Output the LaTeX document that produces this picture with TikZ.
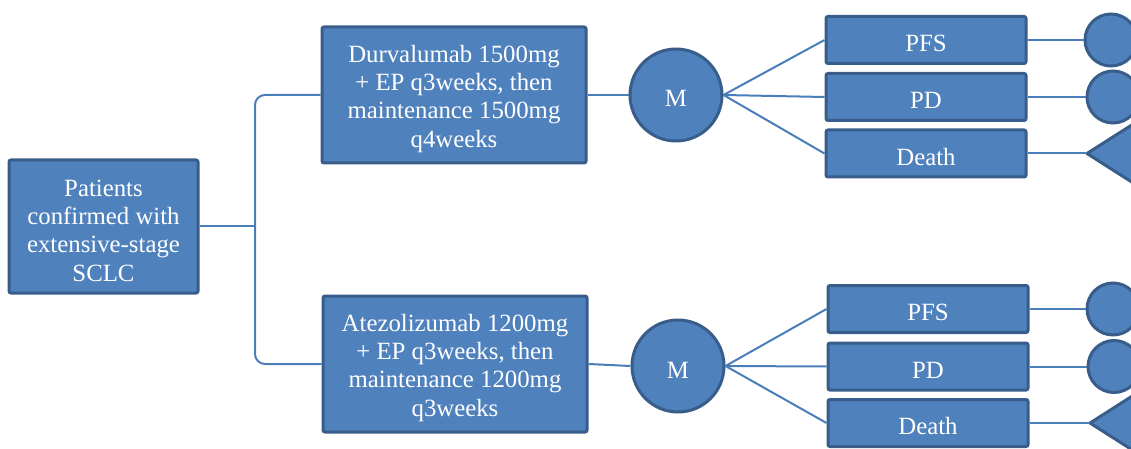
\documentclass[tikz,border=0pt]{standalone}
\usepackage{fontspec}
\setmainfont{Liberation Serif}
\usepackage{xcolor}
\usetikzlibrary{positioning,calc}

\definecolor{boxfill}{HTML}{4F81BD}
\definecolor{boxline}{HTML}{385D8A}
\definecolor{linkcol}{HTML}{4A7EBB}

\begin{document}
\begin{tikzpicture}[x=0.5pt, y=-0.5pt,
  blk/.style={draw=boxline, fill=boxfill, line width=1.5pt, rounded corners=1pt,
    text=white, align=center, inner sep=0pt, font=\fontsize{12.4}{14.2}\selectfont,
    execute at begin node={\rule{0pt}{12pt}}},
  tall/.style={execute at begin node={\rule{0pt}{55pt}}},
  arm/.style={blk, tall, minimum width=132pt, minimum height=68pt},
  outc/.style={blk, minimum width=100pt, minimum height=23.5pt},
  mnode/.style={blk, circle, minimum size=46pt},
  endc/.style={draw=boxline, fill=boxfill, line width=1.5pt, circle, minimum size=26pt, inner sep=0pt},
  endtri/.style={draw=boxline, fill=boxfill, line width=1.5pt, line join=round},
  link/.style={draw=linkcol, line width=1pt}]
  \useasboundingbox (0,0) rectangle (1131,449);
  \clip (0,0) rectangle (1131,449);

  % start
  \node[blk, tall, minimum width=94.5pt, minimum height=66.5pt] (pat) at (103.5,226.5)
    {Patients\\confirmed with\\extensive-stage\\SCLC};
  \coordinate (fork) at (255,226.5);

  % top arm: durvalumab
  \node[arm] (dur) at (454,95) {Durvalumab 1500mg\\+ EP q3weeks, then\\maintenance 1500mg\\q4weeks};
  \node[mnode] (m1) at (676,95) {M};
  \node[outc] (pfs1) at (926,40) {PFS};
  \node[outc] (pd1) at (926,97) {PD};
  \node[outc] (dth1) at (926,153.5) {Death};
  \node[endc] (e1) at (1111,40) {};
  \node[endc] (e2) at (1113,97) {};
  \filldraw[endtri] (1087,153.5) coordinate (t1) -- ++(80,-51) -- ++(0,102) -- cycle;

  % bottom arm: atezolizumab
  \node[arm] (ate) at (455,364) {Atezolizumab 1200mg\\+ EP q3weeks, then\\maintenance 1200mg\\q3weeks};
  \node[mnode] (m2) at (678,366) {M};
  \node[outc] (pfs2) at (928,309) {PFS};
  \node[outc] (pd2) at (928,366.5) {PD};
  \node[outc] (dth2) at (928,423) {Death};
  \node[endc] (e3) at (1113,309) {};
  \node[endc] (e4) at (1114,366.5) {};
  \filldraw[endtri] (1090,423) coordinate (t2) -- ++(80,-51) -- ++(0,102) -- cycle;

  % connectors
  \draw[link] (pat.east) -- (fork);
  \draw[link, rounded corners=5pt] (dur.west) -| (fork) |- (ate.west);
  \draw[link] (dur.east) -- (m1.west);
  \draw[link] (ate.east) -- (m2.west);
  \foreach \o in {pfs1,pd1,dth1} \draw[link] (m1.east) -- (\o.west);
  \foreach \o in {pfs2,pd2,dth2} \draw[link] (m2.east) -- (\o.west);
  \draw[link] (pfs1.east) -- (e1.west);
  \draw[link] (pd1.east) -- (e2.west);
  \draw[link] (dth1.east) -- (t1);
  \draw[link] (pfs2.east) -- (e3.west);
  \draw[link] (pd2.east) -- (e4.west);
  \draw[link] (dth2.east) -- (t2);
\end{tikzpicture}
\end{document}
